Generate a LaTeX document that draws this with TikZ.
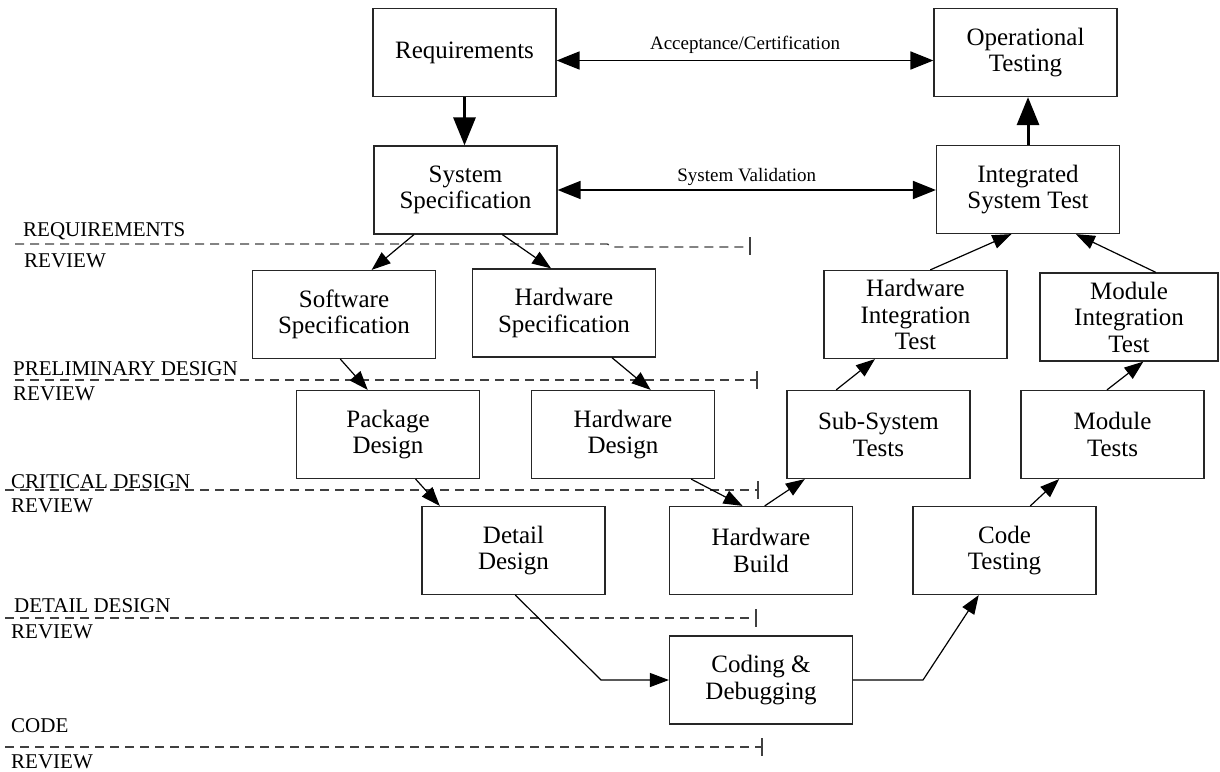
\documentclass[tikz,border=0pt]{standalone}
\usepackage{fontspec}
\setmainfont{Liberation Serif}
\usetikzlibrary{arrows.meta,calc}

\begin{document}
\begin{tikzpicture}[x=1pt,y=-1pt,
  box/.style={draw=black!85,line width=1.2pt,minimum width=183pt,minimum height=88pt,
    align=center,inner sep=2pt,font=\fontsize{25}{26.5}\selectfont},
  flow/.style={line width=1.2pt,-{Triangle[length=19pt,width=14pt]}},
  bigflow/.style={line width=3pt,-{Triangle[length=28pt,width=22pt]}},
  both/.style={line width=1.8pt,{Triangle[length=23pt,width=18pt]}-{Triangle[length=23pt,width=18pt]}},
  review/.style={dash pattern=on 9pt off 6pt,line width=1.3pt,draw=black!75},
  revlabel/.style={anchor=base west,inner sep=0pt,font=\fontsize{21}{23}\selectfont},
  linklabel/.style={font=\fontsize{19}{21}\selectfont}]
  \useasboundingbox (0,0) rectangle (1220,771);

  % left leg of the V
  \node[box] (req) at (464.5,52.5) {Requirements};
  \node[box] (sysspec) at (465.5,190) {System\\Specification};
  \node[box] (swspec) at (344,314.5) {Software\\Specification};
  \node[box] (hwspec) at (564,313) {Hardware\\Specification};
  \node[box] (pkg) at (388,434.5) {Package\\Design};
  \node[box] (hwdes) at (623,434.5) {Hardware\\Design};
  \node[box] (detail) at (513.5,550.5) {Detail\\Design};
  \node[box] (coding) at (761,680) {Coding \&\\Debugging};

  % right leg of the V
  \node[box] (optest) at (1025.5,52.5) {Operational\\Testing};
  \node[box] (integ) at (1028,189.5) {Integrated\\System Test};
  \node[box] (hwint) at (915.5,314.5) {Hardware\\Integration\\Test};
  \node[box,minimum width=178pt] (modint) at (1129,317) {Module\\Integration\\Test};
  \node[box] (subsys) at (878.5,434.5) {Sub-System\\Tests};
  \node[box] (modtest) at (1112.5,434.5) {Module\\Tests};
  \node[box] (hwbuild) at (761,550.5) {Hardware\\Build};
  \node[box] (codetest) at (1004.5,550.5) {Code\\Testing};

  % review lines
  \draw[review] (15,244) -- (607,244) -- (615,247) -- (750,247);
  \draw[line width=1.3pt,black!75] (750,237) -- (750,255);
  \draw[review] (15,380) -- (757,380);
  \draw[line width=1.3pt,black!75] (757,371) -- (757,389);
  \draw[review] (5,490) -- (758,490);
  \draw[line width=1.3pt,black!75] (758,481) -- (758,499);
  \draw[review] (5,618) -- (756,618);
  \draw[line width=1.3pt,black!75] (756,609) -- (756,627);
  \draw[review] (5,747) -- (762,747);
  \draw[line width=1.3pt,black!75] (762,738) -- (762,756);

  \node[revlabel] (rev1a) at (23,236) {REQUIREMENTS};
  \node[revlabel] (rev1b) at (24,267) {REVIEW};
  \node[revlabel] (rev2a) at (13,375) {PRELIMINARY DESIGN};
  \node[revlabel] (rev2b) at (13,400) {REVIEW};
  \node[revlabel] (rev3a) at (11,488) {CRITICAL DESIGN};
  \node[revlabel] (rev3b) at (11,512) {REVIEW};
  \node[revlabel] (rev4a) at (14,612) {DETAIL DESIGN};
  \node[revlabel] (rev4b) at (11,638) {REVIEW};
  \node[revlabel] (rev5a) at (11,732) {CODE};
  \node[revlabel] (rev5b) at (11,768) {REVIEW};

  % connectors
  \draw[bigflow] (req.south) -- (req.south |- sysspec.north);
  \draw[bigflow] (integ.north) -- (integ.north |- optest.south);
  \draw[both] ([yshift=-8pt]req.east) -- ([yshift=-8pt]req.east -| optest.west)
    node[linklabel,midway,above=3pt] (acclbl) {Acceptance/Certification};
  \draw[both] (sysspec.east) -- (sysspec.east -| integ.west)
    node[linklabel,midway,above=0pt] (vallbl) {System Validation};

  \draw[flow] ($(sysspec.south west)!0.22!(sysspec.south east)$) -- ($(swspec.north west)!0.65!(swspec.north east)$);
  \draw[flow] ($(sysspec.south west)!0.70!(sysspec.south east)$) -- ($(hwspec.north west)!0.43!(hwspec.north east)$);
  \draw[flow] ($(swspec.south west)!0.48!(swspec.south east)$) -- ($(pkg.north west)!0.39!(pkg.north east)$);
  \draw[flow] ($(hwspec.south west)!0.76!(hwspec.south east)$) -- ($(hwdes.north west)!0.65!(hwdes.north east)$);
  \draw[flow] ($(pkg.south west)!0.65!(pkg.south east)$) -- ($(detail.north west)!0.10!(detail.north east)$);
  \draw[flow] ($(hwdes.south west)!0.87!(hwdes.south east)$) -- ($(hwbuild.north west)!0.40!(hwbuild.north east)$);

  \coordinate (bendA) at (601,680);
  \coordinate (bendB) at (923,680);
  \draw[flow] ($(detail.south west)!0.51!(detail.south east)$) -- (bendA) -- (coding.west);
  \draw[flow] (coding.east) -- (bendB) -- ($(codetest.south west)!0.36!(codetest.south east)$);

  \draw[flow] ($(hwbuild.north west)!0.52!(hwbuild.north east)$) -- ($(subsys.south west)!0.10!(subsys.south east)$);
  \draw[flow] ($(codetest.north west)!0.64!(codetest.north east)$) -- ($(modtest.south west)!0.21!(modtest.south east)$);
  \draw[flow] ($(subsys.north west)!0.27!(subsys.north east)$) -- ($(hwint.south west)!0.28!(hwint.south east)$);
  \draw[flow] ($(modtest.north west)!0.47!(modtest.north east)$) -- ($(modint.south west)!0.58!(modint.south east)$);
  \draw[flow] ($(hwint.north west)!0.58!(hwint.north east)$) -- ($(integ.south west)!0.41!(integ.south east)$);
  \draw[flow] ($(modint.north west)!0.65!(modint.north east)$) -- ($(integ.south west)!0.76!(integ.south east)$);
\end{tikzpicture}
\end{document}
